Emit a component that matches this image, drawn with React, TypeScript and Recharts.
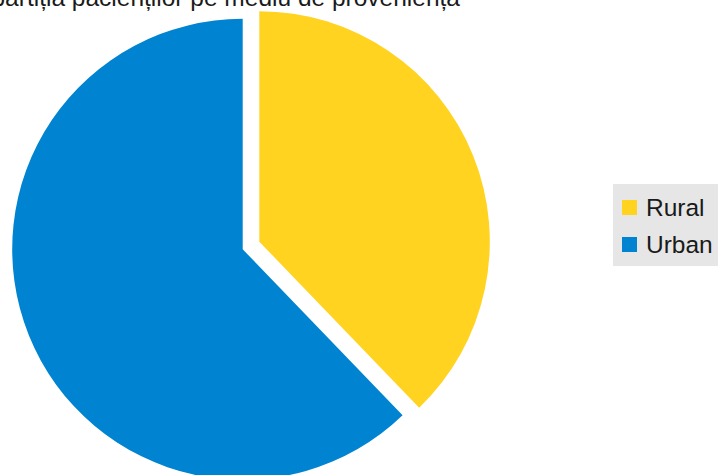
import { PieChart, Pie, Cell, Legend } from "recharts";

const TITLE = "Repartiția pacienților pe mediu de proveniență";
const categories = ["Rural", "Urban"];
const values = [37.8, 62.2];
const COLORS = ["#FFD320", "#0084D1"];

// each slice drawn by its own pie, pulled out from the middle
const CENTERS = [
  { cx: 259.3, cy: 241.7 },
  { cx: 242.7, cy: 249.3 },
];

const FONT = "'Liberation Sans', Arial, sans-serif";

function LegendBox() {
  return (
    <div
      style={{
        background: "#E6E6E6",
        width: 105,
        height: 82,
        boxSizing: "border-box",
        padding: "9px 0 0 9px",
        fontFamily: FONT,
        fontSize: 24.5,
        color: "#1a1a1a",
      }}
    >
      {categories.map((c, i) => (
        <div key={c} style={{ display: "flex", alignItems: "center", height: 37, lineHeight: "37px", marginTop: i === 0 ? -4 : 0 }}>
          <span style={{ width: 15, height: 15, background: COLORS[i], display: "inline-block", marginRight: 9 }} />
          <span>{c}</span>
        </div>
      ))}
    </div>
  );
}

export default function App() {
  const data = categories.map((name, i) => ({ name, value: values[i] }));

  return (
    <div style={{ position: "absolute", left: 0, top: 0, width: 719, height: 475, background: "#fff", overflow: "hidden" }}>
      <PieChart width={719} height={475} margin={{ top: 0, right: 0, bottom: 0, left: 0 }}>
        <text x={460} y={6} textAnchor="end" fontFamily={FONT} fontSize={24.5} fill="#1a1a1a">
          {TITLE}
        </text>
        {CENTERS.map((c, k) => (
          <Pie
            key={k}
            data={data}
            dataKey="value"
            nameKey="name"
            cx={c.cx}
            cy={c.cy}
            outerRadius={230.5}
            startAngle={90}
            endAngle={-270}
            stroke="none"
            isAnimationActive={false}
          >
            {data.map((d, i) => (
              <Cell key={d.name} fill={i === k ? COLORS[i] : "transparent"} />
            ))}
          </Pie>
        ))}
        <Legend content={() => <LegendBox />} wrapperStyle={{ left: 613, top: 184, width: 105 }} />
      </PieChart>
    </div>
  );
}
